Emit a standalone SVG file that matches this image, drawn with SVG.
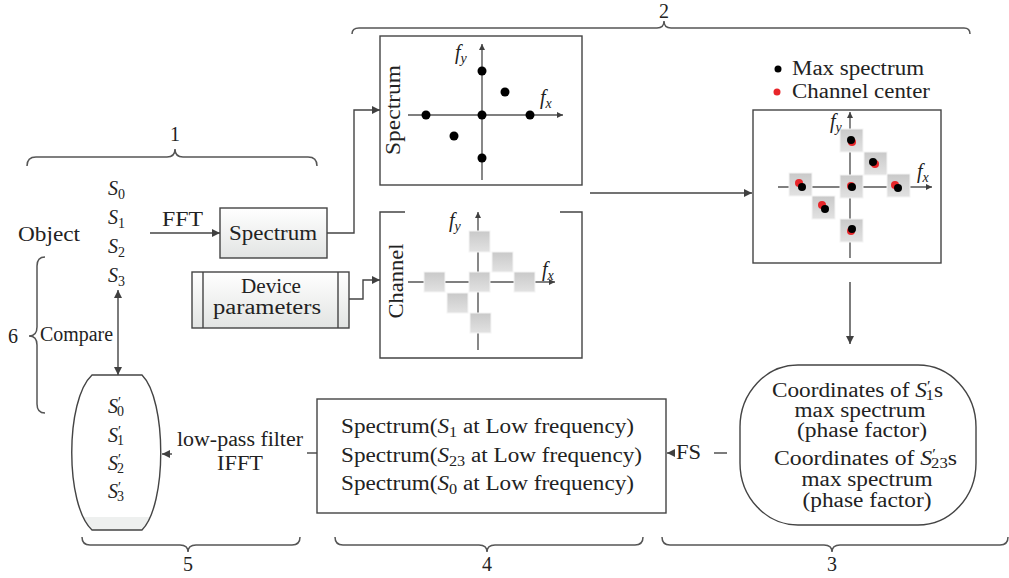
<svg xmlns="http://www.w3.org/2000/svg" width="1009" height="578" viewBox="0 0 1009 578">
<style>
text{font-family:"Liberation Serif","DejaVu Serif",serif;font-size:20px;fill:#222}
.it{font-style:italic}
.sm{font-size:14px}
.ln{fill:none;stroke:#444;stroke-width:1.4}
.ax{fill:none;stroke:#555;stroke-width:1.4}
.br{fill:none;stroke:#555;stroke-width:1.5}
.bx{stroke:#444;stroke-width:1.4}
.sq{fill:url(#sqg);stroke:#f4f4f4;stroke-width:1}
</style>
<defs>
<marker id="ah" viewBox="0 0 10 10" refX="10" refY="5" markerWidth="8" markerHeight="8" markerUnits="userSpaceOnUse" orient="auto-start-reverse"><path d="M0,0 L10,5 L0,10 Z" fill="#404040"/></marker>
<marker id="sa" viewBox="0 0 10 10" refX="10" refY="5" markerWidth="6" markerHeight="6" markerUnits="userSpaceOnUse" orient="auto"><path d="M0,0 L10,5 L0,10 Z" fill="#404040"/></marker>
<linearGradient id="bg" x1="0" y1="0" x2="0" y2="1"><stop offset="0" stop-color="#ffffff"/><stop offset="1" stop-color="#e2e4e3"/></linearGradient>
<linearGradient id="sqg" x1="0" y1="0" x2="0" y2="1"><stop offset="0" stop-color="#c9c9c9"/><stop offset="1" stop-color="#e2e2e2"/></linearGradient>
<clipPath id="barrelclip"><path d="M92,375 L142,375 C167,400 167,505 142,530 L92,530 C65,505 65,400 92,375 Z"/></clipPath>
</defs>

<g id="braces">
<path class="br" d="M352,34 Q352,28 359,28 L657,28 Q664,28 664,21 Q664,28 671,28 L964,28 Q970,28 970,34"/>
<text x="664" y="18" text-anchor="middle">2</text>
<path class="br" d="M27,166 Q27,157 36,157 L167,157 Q175,157 175,149 Q175,157 183,157 L308,157 Q317,157 317,166"/>
<text x="175" y="141" text-anchor="middle">1</text>
<path class="br" d="M82,537 Q82,545 90,545 L180,545 Q188,545 188,552 Q188,545 196,545 L292,545 Q300,545 300,537"/>
<text x="188" y="571" text-anchor="middle">5</text>
<path class="br" d="M335,537 Q335,545 343,545 L479,545 Q487,545 487,552 Q487,545 495,545 L635,545 Q643,545 643,537"/>
<text x="487" y="571" text-anchor="middle">4</text>
<path class="br" d="M662,537 Q662,545 670,545 L824,545 Q832,545 832,552 Q832,545 840,545 L1000,545 Q1008,545 1008,537"/>
<text x="832" y="571" text-anchor="middle">3</text>
<path class="br" d="M45,257 Q37,257 37,266 L37,327 Q37,336 29,336 Q37,336 37,345 L37,404 Q37,413 45,413"/>
<text x="13" y="343" text-anchor="middle">6</text>
<text x="40" y="341" textLength="73" lengthAdjust="spacingAndGlyphs">Compare</text>
</g>

<g id="object">
<text x="18" y="241" textLength="62" lengthAdjust="spacingAndGlyphs">Object</text>
<text x="108" y="195"><tspan class="it">S</tspan><tspan class="sm" dy="4">0</tspan></text>
<text x="108" y="224"><tspan class="it">S</tspan><tspan class="sm" dy="4">1</tspan></text>
<text x="108" y="253"><tspan class="it">S</tspan><tspan class="sm" dy="4">2</tspan></text>
<text x="108" y="282"><tspan class="it">S</tspan><tspan class="sm" dy="4">3</tspan></text>
</g>

<g id="spectrum-box">
<rect class="bx" x="220" y="208" width="107" height="50" fill="url(#bg)"/>
<text x="273" y="240" text-anchor="middle" textLength="88" lengthAdjust="spacingAndGlyphs">Spectrum</text>
</g>

<g id="device-box">
<rect class="bx" x="192" y="272" width="157" height="56" fill="url(#bg)"/>
<line class="bx" x1="203" y1="272" x2="203" y2="328"/>
<line class="bx" x1="338" y1="272" x2="338" y2="328"/>
<text x="271" y="293" text-anchor="middle" textLength="60" lengthAdjust="spacingAndGlyphs">Device</text>
<text x="267" y="314" text-anchor="middle" textLength="108" lengthAdjust="spacingAndGlyphs">parameters</text>
</g>

<g id="spectrum-panel">
<rect class="bx" x="380" y="36" width="202" height="149" fill="#fff"/>
<text transform="translate(400,110) rotate(-90)" text-anchor="middle" textLength="90" lengthAdjust="spacingAndGlyphs">Spectrum</text>
<line class="ax" x1="482" y1="180" x2="482" y2="44" marker-end="url(#sa)"/>
<line class="ax" x1="408" y1="115" x2="563" y2="115" marker-end="url(#sa)"/>
<text x="455" y="59"><tspan class="it">f</tspan><tspan class="sm it" dy="4">y</tspan></text>
<text x="540" y="104"><tspan class="it">f</tspan><tspan class="sm it" dy="4">x</tspan></text>
<g fill="#000">
<circle cx="482" cy="71" r="4.5"/><circle cx="505" cy="92" r="4.5"/>
<circle cx="426" cy="115" r="4.5"/><circle cx="482" cy="115" r="4.5"/>
<circle cx="530" cy="115" r="4.5"/><circle cx="454" cy="136" r="4.5"/>
<circle cx="482" cy="158" r="4.5"/>
</g>
</g>

<g id="channel-panel">
<rect x="380" y="212" width="202" height="146" fill="#fff"/>
<path class="bx" fill="none" d="M405,212 H380 V358 H582 V212 H560"/>
<text transform="translate(403,281) rotate(-90)" text-anchor="middle" textLength="75" lengthAdjust="spacingAndGlyphs">Channel</text>
<line class="ax" x1="478" y1="350" x2="478" y2="212" marker-end="url(#sa)"/>
<line class="ax" x1="408" y1="282" x2="555" y2="282" marker-end="url(#sa)"/>
<rect class="sq" x="469" y="231" width="21" height="21"/>
<rect class="sq" x="492" y="252" width="21" height="20"/>
<rect class="sq" x="424" y="272" width="21" height="20"/>
<rect class="sq" x="469" y="272" width="21" height="20"/>
<rect class="sq" x="514" y="272" width="21" height="20"/>
<rect class="sq" x="447" y="293" width="21" height="20"/>
<rect class="sq" x="470" y="313" width="21" height="20"/>
<text x="449" y="227"><tspan class="it">f</tspan><tspan class="sm it" dy="4">y</tspan></text>
<text x="542" y="276"><tspan class="it">f</tspan><tspan class="sm it" dy="4">x</tspan></text>
</g>

<g id="legend">
<circle cx="778" cy="69" r="3.5" fill="#000"/>
<text x="792" y="75" textLength="132" lengthAdjust="spacingAndGlyphs">Max spectrum</text>
<circle cx="777" cy="92" r="3.5" fill="#e8262a"/>
<text x="792" y="98" textLength="138" lengthAdjust="spacingAndGlyphs">Channel center</text>
</g>

<g id="result-panel">
<rect class="bx" x="753" y="110" width="188" height="153" fill="#fff"/>
<line class="ax" x1="850" y1="258" x2="850" y2="112" marker-end="url(#sa)"/>
<line class="ax" x1="778" y1="187" x2="932" y2="187" marker-end="url(#sa)"/>
<rect class="sq" x="840" y="129" width="23" height="23"/>
<rect class="sq" x="864" y="152" width="23" height="23"/>
<rect class="sq" x="789" y="173" width="23" height="23"/>
<rect class="sq" x="840" y="175" width="23" height="23"/>
<rect class="sq" x="887" y="174" width="23" height="23"/>
<rect class="sq" x="812" y="196" width="23" height="23"/>
<rect class="sq" x="840" y="219" width="23" height="23"/>
<g fill="#e8262a">
<circle cx="852" cy="142" r="4"/><circle cx="875" cy="164" r="4"/>
<circle cx="799" cy="183" r="4"/><circle cx="851" cy="186" r="4"/>
<circle cx="895" cy="185" r="4"/><circle cx="822" cy="205" r="4"/>
<circle cx="851" cy="231" r="4"/>
</g>
<g fill="#000">
<circle cx="851" cy="140" r="4"/><circle cx="873" cy="162" r="4"/>
<circle cx="802" cy="187" r="4"/><circle cx="852" cy="187" r="4"/>
<circle cx="898" cy="188" r="4"/><circle cx="825" cy="209" r="4"/>
<circle cx="852" cy="229" r="4"/>
</g>
<text x="830" y="128"><tspan class="it">f</tspan><tspan class="sm it" dy="4">y</tspan></text>
<text x="917" y="178"><tspan class="it">f</tspan><tspan class="sm it" dy="4">x</tspan></text>
</g>

<g id="coordinates-box">
<rect class="bx" x="740" y="365" width="236" height="160" rx="58" ry="62" fill="#fff"/>
<text x="772" y="397" textLength="171" lengthAdjust="spacingAndGlyphs">Coordinates of <tspan class="it">S</tspan><tspan class="sm" dy="-6">′</tspan><tspan class="sm" dx="-4" dy="9">1</tspan><tspan dy="-3">s</tspan></text>
<text x="860" y="417" text-anchor="middle" textLength="131" lengthAdjust="spacingAndGlyphs">max spectrum</text>
<text x="862" y="437" text-anchor="middle" textLength="130" lengthAdjust="spacingAndGlyphs">(phase factor)</text>
<text x="774" y="465" textLength="183" lengthAdjust="spacingAndGlyphs">Coordinates of <tspan class="it">S</tspan><tspan class="sm" dy="-6">′</tspan><tspan class="sm" dx="-4" dy="9">23</tspan><tspan dy="-3">s</tspan></text>
<text x="867" y="486" text-anchor="middle" textLength="131" lengthAdjust="spacingAndGlyphs">max spectrum</text>
<text x="867" y="507" text-anchor="middle" textLength="129" lengthAdjust="spacingAndGlyphs">(phase factor)</text>
</g>

<g id="lowfreq-box">
<rect class="bx" x="317" y="399" width="349" height="114" fill="#fff"/>
<text x="341" y="433" textLength="293" lengthAdjust="spacingAndGlyphs">Spectrum(<tspan class="it">S</tspan><tspan class="sm" dy="4">1</tspan><tspan dy="-4"> at Low frequency)</tspan></text>
<text x="341" y="462" textLength="301" lengthAdjust="spacingAndGlyphs">Spectrum(<tspan class="it">S</tspan><tspan class="sm" dy="4">23</tspan><tspan dy="-4"> at Low frequency)</tspan></text>
<text x="341" y="490" textLength="293" lengthAdjust="spacingAndGlyphs">Spectrum(<tspan class="it">S</tspan><tspan class="sm" dy="4">0</tspan><tspan dy="-4"> at Low frequency)</tspan></text>
</g>

<g id="reconstructed">
<path d="M92,375 L142,375 C167,400 167,505 142,530 L92,530 C65,505 65,400 92,375 Z" fill="#fff"/>
<rect x="60" y="517" width="110" height="14" fill="#eef0ef" clip-path="url(#barrelclip)"/>
<path class="bx" fill="none" d="M92,375 L142,375 C167,400 167,505 142,530 L92,530 C65,505 65,400 92,375 Z"/>
<text x="108" y="413"><tspan class="it">S</tspan><tspan class="sm" dy="-6">′</tspan><tspan class="sm" dx="-4" dy="9">0</tspan></text>
<text x="108" y="442"><tspan class="it">S</tspan><tspan class="sm" dy="-6">′</tspan><tspan class="sm" dx="-4" dy="9">1</tspan></text>
<text x="108" y="470"><tspan class="it">S</tspan><tspan class="sm" dy="-6">′</tspan><tspan class="sm" dx="-4" dy="9">2</tspan></text>
<text x="108" y="498"><tspan class="it">S</tspan><tspan class="sm" dy="-6">′</tspan><tspan class="sm" dx="-4" dy="9">3</tspan></text>
</g>

<g id="connectors">
<line class="ln" x1="150" y1="233" x2="220" y2="233" marker-end="url(#ah)"/>
<text x="162" y="226" textLength="41" lengthAdjust="spacingAndGlyphs">FFT</text>
<path class="ln" d="M327,233 H354 V110 H380" marker-end="url(#ah)"/>
<path class="ln" d="M349,299 H363 V280 H380" marker-end="url(#ah)"/>
<line class="ln" x1="590" y1="193" x2="752" y2="193" marker-end="url(#ah)"/>
<line class="ln" x1="850" y1="282" x2="850" y2="344" marker-end="url(#ah)"/>
<line class="ln" x1="727" y1="453" x2="714" y2="453"/>
<line class="ln" x1="675" y1="453" x2="667" y2="453" marker-end="url(#ah)"/>
<text x="676" y="459" textLength="25" lengthAdjust="spacingAndGlyphs">FS</text>
<line class="ln" x1="317" y1="453" x2="307" y2="453"/>
<line class="ln" x1="172" y1="454" x2="162" y2="454" marker-end="url(#ah)"/>
<text x="240" y="446" text-anchor="middle" textLength="126" lengthAdjust="spacingAndGlyphs">low-pass filter</text>
<text x="240" y="470" text-anchor="middle" textLength="46" lengthAdjust="spacingAndGlyphs">IFFT</text>
<line class="ln" x1="118" y1="290" x2="118" y2="375" marker-start="url(#ah)" marker-end="url(#ah)"/>
</g>
</svg>
